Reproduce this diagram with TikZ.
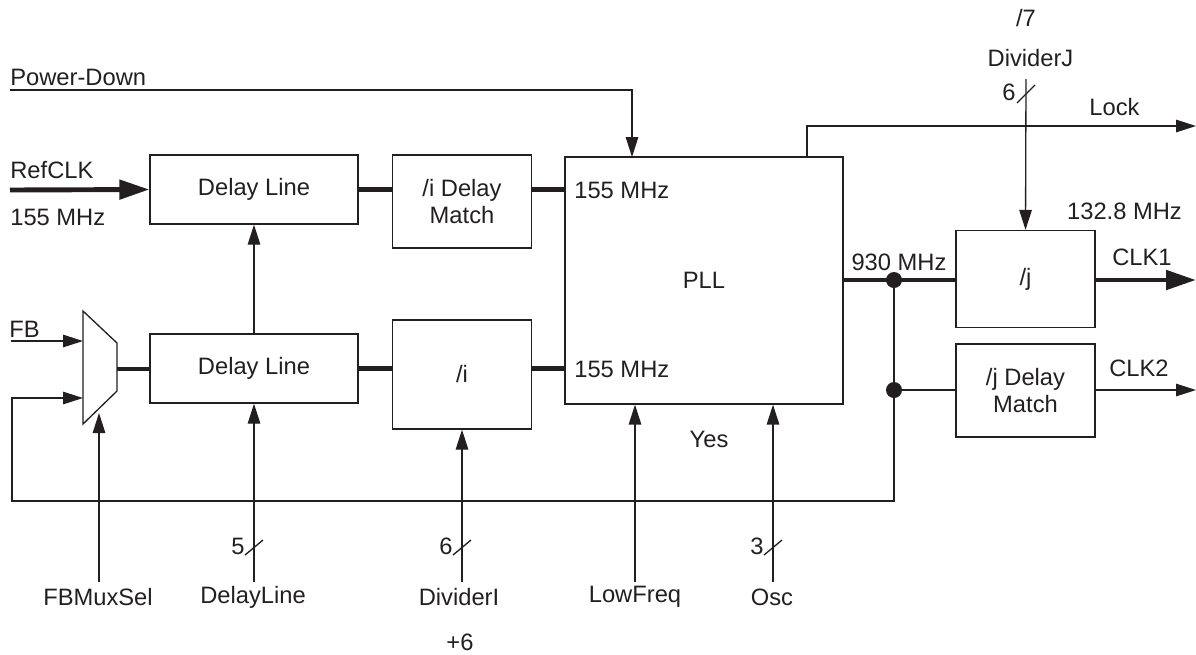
\documentclass[tikz,border=0pt]{standalone}
\usepackage{fontspec}
\setmainfont{Liberation Sans}
\usetikzlibrary{arrows.meta}
\definecolor{ink}{RGB}{35,31,32}

\begin{document}
\begin{tikzpicture}[x=0.02cm, y=-0.02cm, color=ink, font=\fontsize{13.5}{15}\selectfont,
  blk/.style={draw, line width=0.75pt, inner sep=0pt, align=center},
  lbl/.style={inner sep=0pt},
  sig/.style={line width=0.75pt, -{Triangle[length=0.4cm,width=0.25cm]}},
  bus/.style={line width=2.8pt},
  busarr/.style={line width=2.8pt, -{Triangle[length=0.6cm,width=0.38cm]}}]
% PLL clock generator with delay line and feedback mux
\useasboundingbox (0,0) rectangle (1196,654);

\coordinate (pd0) at (10,90);
\coordinate (pdin) at (632,157);
\coordinate (ref0) at (10,190);
\coordinate (fb0) at (11,341);
\coordinate (mxa) at (83,341);
\coordinate (mxb) at (83,398);
\coordinate (mxo) at (117,369);
\coordinate (msel) at (99,413);
\coordinate (lk0) at (807,157);
\coordinate (lk1) at (1196,126);
\coordinate (dj0) at (1026,79);
\coordinate (clk1) at (1196,280);
\coordinate (clk2) at (1196,390);
\coordinate (j1) at (894,280);
\coordinate (j2) at (894,390);
\coordinate (lp) at (12,501);
\coordinate (sel0) at (99,582);
\coordinate (dly0) at (254,582);
\coordinate (dvi0) at (462,582);
\coordinate (lf0) at (635,582);
\coordinate (osc0) at (773,582);

% blocks
\node[blk, minimum width=4.16cm, minimum height=1.38cm] (dl1) at (254,189.5) {Delay Line};
\node[blk, minimum width=2.78cm, minimum height=1.86cm] (idm) at (462,201.5) {/i Delay\\Match};
\node[blk, minimum width=5.56cm, minimum height=4.94cm] (pll) at (704,280.5) {PLL};
\node[blk, minimum width=4.16cm, minimum height=1.38cm] (dl2) at (254,368.5) {Delay Line};
\node[blk, minimum width=2.78cm, minimum height=2.18cm] (idiv) at (462,374.5) {/i};
\node[blk, minimum width=2.78cm, minimum height=1.94cm] (jdiv) at (1025.5,279) {/j};
\node[blk, minimum width=2.78cm, minimum height=1.86cm] (jdm) at (1025.5,390.5) {/j Delay\\Match};

% feedback mux
\draw[line width=0.75pt] (83,311) -- (117,343) -- (117,391) -- (83,424) -- cycle;

% connections
\draw[sig] (pd0) -| (pdin);
\draw[busarr] (ref0) -- (dl1.west);
\draw[bus] (dl1.east) -- (dl1.east -| idm.west);
\draw[bus] (dl1.east -| idm.east) -- (dl1.east -| pll.west);
\draw[sig] (dl2.north) -- (dl1.south);
\draw[sig] (fb0) -- (mxa);
\draw[bus] (mxo) -- (mxo -| dl2.west);
\draw[bus] (dl2.east) -- (dl2.east -| idiv.west);
\draw[bus] (dl2.east -| idiv.east) -- (dl2.east -| pll.west);
\draw[sig] (lk0) |- (lk1);
\draw[sig] (dj0) -- (jdiv.north);
\draw[bus] (pll.east |- j1) -- (j1 -| jdiv.west);
\draw[busarr] (j1 -| jdiv.east) -- (clk1);
\draw[line width=0.75pt] (j2) -- (j2 -| jdm.west);
\draw[sig] (j2 -| jdm.east) -- (clk2);
\draw[sig] (j1) |- (lp) |- (mxb);
\fill (j1) circle (0.16cm);
\fill (j2) circle (0.16cm);
\draw[sig] (sel0) -- (msel);
\draw[sig] (dly0) -- (dl2.south);
\draw[sig] (dvi0) -- (idiv.south);
\draw[sig] (lf0) -- (lf0 |- pll.south);
\draw[sig] (osc0) -- (osc0 |- pll.south);

% bus width marks
\draw[line width=0.75pt] (245,555) -- (263,540);
\draw[line width=0.75pt] (453,555) -- (471,540);
\draw[line width=0.75pt] (764,555) -- (782,540);
\draw[line width=0.75pt] (1017,103) -- (1035,85);

% labels
\node[lbl, anchor=west] (pdt) at (10,77) {Power-Down};
\node[lbl, anchor=west] (reft) at (10,170) {RefCLK};
\node[lbl, anchor=west] (reff) at (10,217) {155 MHz};
\node[lbl, anchor=west] (fbt) at (9,329) {FB};
\node[lbl, anchor=west] (pf1) at (574,190) {155 MHz};
\node[lbl, anchor=west] (pf2) at (574,369) {155 MHz};
\node[lbl] (f930) at (899,262) {930 MHz};
\node[lbl] (f132) at (1124.5,211) {132.8 MHz};
\node[lbl] (c1t) at (1142,257) {CLK1};
\node[lbl] (c2t) at (1139,368) {CLK2};
\node[lbl] (lkt) at (1114.5,107) {Lock};
\node[lbl] (djt) at (1030.5,58) {DividerJ};
\node[lbl] (d7t) at (1026,18) {/7};
\node[lbl] (n6j) at (1009,92) {6};
\node[lbl] (yes) at (709,439) {Yes};
\node[lbl] (n5) at (238,546) {5};
\node[lbl] (n6) at (446,546) {6};
\node[lbl] (n3) at (757,546) {3};
\node[lbl] (selt) at (98,597) {FBMuxSel};
\node[lbl] (dlyt) at (253,597) {DelayLine};
\node[lbl] (dvit) at (459,597) {DividerI};
\node[lbl] (lft) at (635,597) {LowFreq};
\node[lbl] (osct) at (772,597) {Osc};
\node[lbl] (p6) at (460,642) {+6};
\end{tikzpicture}
\end{document}
